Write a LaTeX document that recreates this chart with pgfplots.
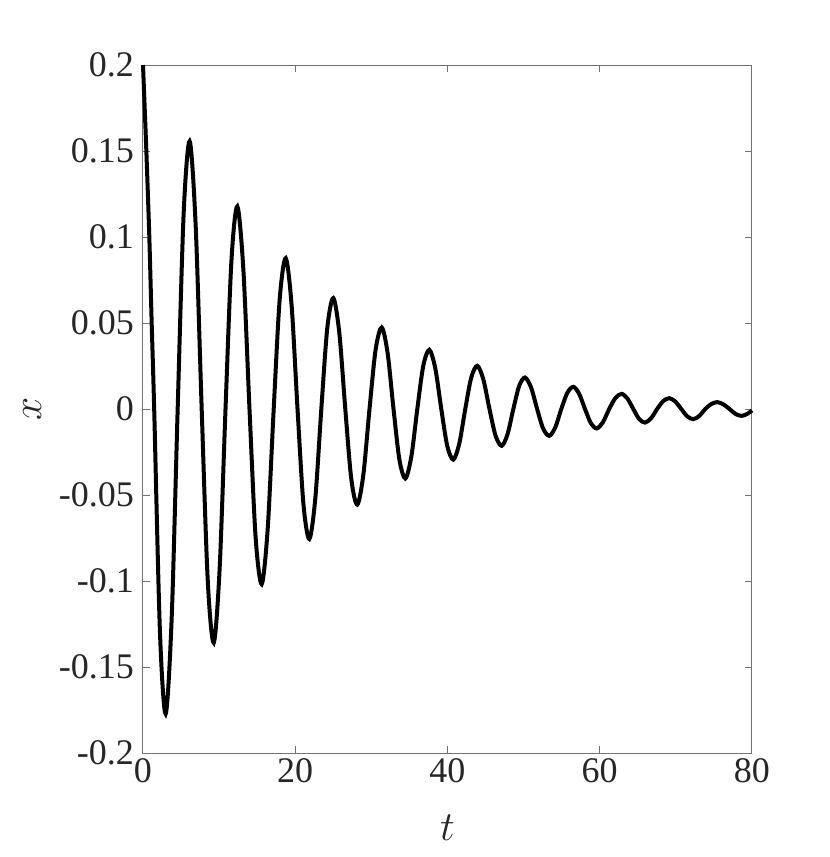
\documentclass[border=0pt]{standalone}
\usepackage{pgfplots}
\pgfplotsset{compat=1.18}
\usepackage{fontspec}
\setmainfont{Liberation Serif}
\begin{document}
\begin{tikzpicture}
\begin{axis}[
  scale only axis,
  width=304.5pt, height=344pt,
  xmin=0, xmax=80, ymin=-0.2, ymax=0.2,
  xtick={0,20,40,60,80},
  xticklabels={0,20,40,60,80},
  ytick={-0.2,-0.15,-0.1,-0.05,0,0.05,0.1,0.15,0.2},
  yticklabels={-0.2,-0.15,-0.1,-0.05,0,0.05,0.1,0.15,0.2},
  tick pos=both,
  tick align=inside,
  major tick length=3.5pt,
  axis line style={black!55, line width=0.5pt},
  every tick/.style={black!55, line width=0.5pt},
  tick label style={font=\fontsize{18}{20}\selectfont, text=black!85},
  xticklabel style={yshift=1pt},
  yticklabel style={xshift=-1pt},
  xlabel={$t$}, ylabel={$x$},
  label style={font=\fontsize{21}{24}\selectfont, text=black!85},
  xlabel style={at={(axis description cs:0.5,-0.109)}, anchor=center},
  ylabel style={at={(axis description cs:-0.182,0.5)}, anchor=center},
  clip=false,
]
\addplot[black, line width=2pt, smooth] coordinates {
(0,0.2) (0.44,0.15) (0.83,0.1) (1.14,0.05) (1.47,0)
(2.225,-0.1294) (2.98,-0.1772) (3.77,-0.1214) (4.555,0)
(5.34,0.1136) (6.13,0.1556) (6.92,0.1066) (7.71,0)
(8.50,-0.0992) (9.29,-0.1359) (10.065,-0.0931) (10.84,0)
(11.615,0.0860) (12.39,0.1178) (13.19,0.0807) (13.99,0)
(14.79,-0.0743) (15.59,-0.1018) (16.38,-0.0697) (17.17,0)
(17.96,0.0640) (18.75,0.0877) (19.525,0.0601) (20.30,0)
(21.075,-0.0552) (21.85,-0.0756) (22.64,-0.0518) (23.425,0)
(24.21,0.0471) (25.00,0.0645) (25.79,0.0442) (26.575,0)
(27.36,-0.0406) (28.15,-0.0556) (28.95,-0.0381) (29.755,0)
(30.56,0.0346) (31.36,0.0474) (32.135,0.0325) (32.91,0)
(33.685,-0.0295) (34.46,-0.0404) (35.25,-0.0277) (36.035,0)
(36.82,0.0251) (37.61,0.0344) (38.40,0.0236) (39.185,0)
(39.97,-0.0215) (40.76,-0.0294) (41.55,-0.0201) (42.335,0)
(43.12,0.0183) (43.91,0.0251) (44.71,0.0172) (45.515,0)
(46.32,-0.0156) (47.12,-0.0214) (47.885,-0.0147) (48.65,0)
(49.415,0.0134) (50.18,0.0183) (50.98,0.0125) (51.775,0)
(52.57,-0.0114) (53.37,-0.0156) (54.16,-0.0107) (54.95,0)
(55.74,0.0094) (56.53,0.0129) (57.30,0.0088) (58.065,0)
(58.83,-0.0082) (59.60,-0.0113) (60.42,-0.0077) (61.24,0)
(62.06,0.0064) (62.88,0.0088) (63.645,0.0060) (64.41,0)
(65.175,-0.0058) (65.94,-0.0079) (66.74,-0.0054) (67.54,0)
(68.34,0.0046) (69.14,0.0063) (69.93,0.0043) (70.715,0)
(71.50,-0.0043) (72.29,-0.0059) (73.08,-0.0040) (73.865,0)
(74.65,0.0029) (75.44,0.0040) (76.24,0.0027) (77.045,0)
(77.85,-0.0029) (78.65,-0.0040) (79.44,-0.0027) (80,-0.0008)
};
\end{axis}
\pgfresetboundingbox
\path (-71.5pt,-52pt) rectangle (343.5pt,376.5pt);
\end{tikzpicture}
\end{document}
